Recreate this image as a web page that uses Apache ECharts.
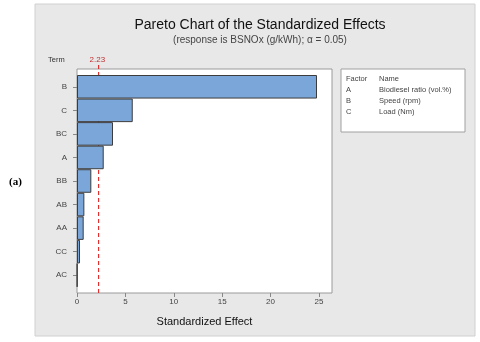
<!DOCTYPE html>
<html>
<head>
<meta charset="utf-8">
<script src="https://cdn.jsdelivr.net/npm/echarts@6/dist/echarts.min.js"></script>
<style>
html,body{margin:0;padding:0;background:#fff;}
#container{width:480px;height:342px;}
</style>
</head>
<body>
<div id="container"></div>
<script>
var terms = ['B', 'C', 'BC', 'A', 'BB', 'AB', 'AA', 'CC', 'AC'];
var effects = [24.8, 5.76, 3.72, 2.76, 1.48, 0.76, 0.69, 0.31, 0.03];
var critical = 2.23;
var xTicks = [0, 5, 10, 15, 20, 25];
var factorRows = [['Factor', 'Name'], ['A', 'Biodiesel ratio (vol.%)'], ['B', 'Speed (rpm)'], ['C', 'Load (Nm)']];

var myChart = echarts.init(document.getElementById('container'));
var font = 'Liberation Sans, Arial, sans-serif';
var xMax = 26.35;

// legend table text
var tableTexts = [];
factorRows.forEach(function (r, i) {
	tableTexts.push({ type: 'text', left: 346, top: 75 + i * 11, style: { text: r[0], font: '7.5px ' + font, fill: '#444' } });
	tableTexts.push({ type: 'text', left: 379, top: 75 + i * 11, style: { text: r[1], font: '7.5px ' + font, fill: '#444' } });
});

var option = {
	animation: false,
	graphic: [
		{ type: 'rect', z: -10, shape: { x: 35, y: 4, width: 440, height: 332 }, style: { fill: '#e8e8e8', stroke: '#d0d0d0', lineWidth: 1 } },
		{ type: 'rect', z: -5, shape: { x: 341, y: 69, width: 124, height: 63 }, style: { fill: '#fff', stroke: '#a0a0a0', lineWidth: 1 } },
		{ type: 'text', left: 9, top: 177, style: { text: '(a)', font: 'bold 11px Liberation Serif, serif', fill: '#000' } },
		{ type: 'text', left: 48, top: 56, style: { text: 'Term', font: '7.5px ' + font, fill: '#333' } }
	].concat(tableTexts),
	title: {
		text: 'Pareto Chart of the Standardized Effects',
		subtext: '(response is BSNOx (g/kWh); α = 0.05)',
		left: 255,
		textAlign: 'center',
		top: 13,
		itemGap: 3,
		textStyle: { fontFamily: font, fontSize: 14, fontWeight: 'normal', color: '#111' },
		subtextStyle: { fontFamily: font, fontSize: 10, color: '#444' }
	},
	grid: [
		// frame
		{ left: 77, right: 148, top: 69, bottom: 49, show: true, backgroundColor: '#fff', borderColor: '#9a9a9a', borderWidth: 1 },
		// bars
		{ left: 77, right: 148, top: 75, bottom: 55 }
	],
	xAxis: [
		{
			gridIndex: 0, type: 'value', min: 0, max: xMax, interval: 5,
			name: 'Standardized Effect', nameLocation: 'middle', nameGap: 23,
			nameTextStyle: { fontFamily: font, fontSize: 11, color: '#111' },
			axisLine: { show: false },
			axisTick: { show: true, length: 4, lineStyle: { color: '#888' }, customValues: xTicks },
			axisLabel: { fontFamily: font, fontSize: 8, color: '#444', margin: 5, customValues: xTicks },
			splitLine: { show: false }
		},
		{ gridIndex: 1, type: 'value', min: 0, max: xMax, show: false, splitLine: { show: false } }
	],
	yAxis: [
		{ gridIndex: 0, type: 'value', min: 0, max: 1, show: false, splitLine: { show: false } },
		{
			gridIndex: 1, type: 'category', data: terms, inverse: true,
			axisLine: { show: false },
			axisTick: { show: true, alignWithLabel: true, length: 4, lineStyle: { color: '#888' } },
			axisLabel: { fontFamily: font, fontSize: 8, color: '#444', margin: 10 }
		}
	],
	series: [
		{
			// critical t value reference line, drawn behind the bars
			type: 'line', xAxisIndex: 0, yAxisIndex: 0, silent: true, clip: false, z: 1,
			data: [[critical, 0], [critical, 1.02]],
			symbol: 'none',
			lineStyle: { color: '#e03030', type: [4, 3], width: 1.2 },
			endLabel: { show: true, formatter: String(critical), fontFamily: font, fontSize: 8, color: '#c03030', distance: 0, offset: [-9, -5] }
		},
		{
			type: 'bar', xAxisIndex: 1, yAxisIndex: 1, data: effects, z: 3,
			barCategoryGap: 0,
			itemStyle: { color: '#7ba6d9', borderColor: '#3c3c3c', borderWidth: 1 }
		}
	]
};
myChart.setOption(option);
</script>
</body>
</html>
